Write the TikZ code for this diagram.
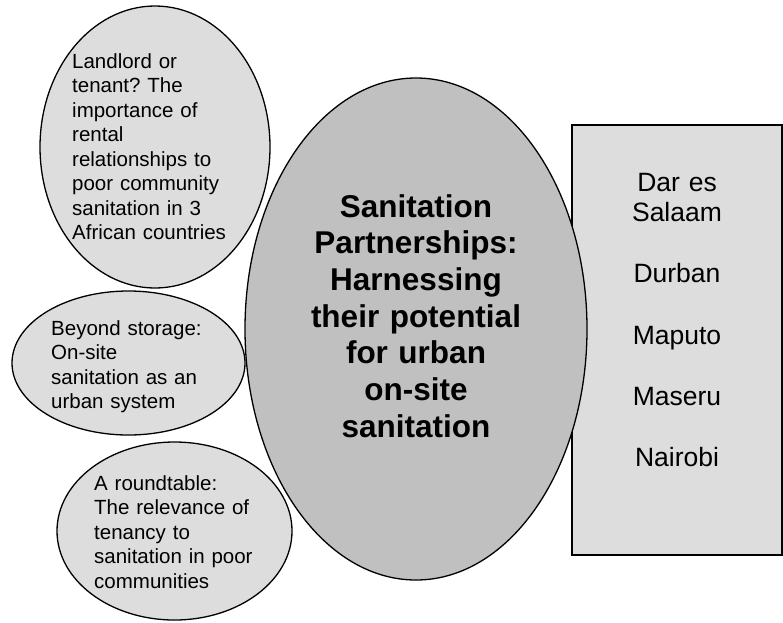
\documentclass[tikz,border=0pt]{standalone}
\usepackage{fontspec}
\setmainfont{Liberation Sans}
\usetikzlibrary{shapes.geometric}
\definecolor{lightgr}{RGB}{221,221,221}
\definecolor{midgr}{RGB}{192,192,192}
\frenchspacing
\begin{document}
\begin{tikzpicture}[x=1pt,y=-1pt,
  bubble/.style={ellipse, draw=black, line width=1.3pt, fill=lightgr, inner sep=0pt},
  hub/.style={ellipse, draw=black, line width=1.3pt, fill=midgr, inner sep=0pt},
  panel/.style={rectangle, draw=black, line width=1.3pt, fill=lightgr, inner sep=0pt},
  smalltext/.style={anchor=base west, align=left, text width=200pt, inner sep=0pt,
    font=\frenchspacing\fontsize{20.5}{24.5}\selectfont},
  hubtext/.style={anchor=base, align=center, text width=300pt, inner sep=0pt,
    font=\fontsize{31.5}{36.7}\selectfont\bfseries},
  paneltext/.style={anchor=base, align=center, text width=180pt, inner sep=0pt,
    font=\fontsize{26.5}{30.6}\selectfont}]
\useasboundingbox (0,0) rectangle (783,622);
% right panel
\node[panel, minimum width=210pt, minimum height=430pt] (cities) at (677,340) {};
% central ellipse
\node[hub, minimum width=342pt, minimum height=502pt] (hub) at (416,329) {};
% left bubbles
\node[bubble, minimum width=230pt, minimum height=282pt] (b1) at (155,147) {};
\node[bubble, minimum width=233pt, minimum height=144pt] (b2) at (128.5,363) {};
\node[bubble, minimum width=235pt, minimum height=178pt] (b3) at (174.5,531) {};
% texts
\node[smalltext] (t1) at (72,68) {Landlord or\\tenant? The\\importance of\\rental\\relationships to\\poor community\\sanitation in 3\\African countries};
\node[smalltext] (t2) at (51,335) {Beyond storage:\\On-site\\sanitation as an\\urban system};
\node[smalltext] (t3) at (94,490) {A roundtable:\\The relevance of\\tenancy to\\sanitation in poor\\communities};
\node[hubtext] (th) at (416,217) {Sanitation\\Partnerships:\\Harnessing\\their potential\\for urban\\on-site\\sanitation};
\node[paneltext] (tc) at (677,191) {Dar es\\Salaam\\[30.6pt]Durban\\[30.6pt]Maputo\\[30.6pt]Maseru\\[30.6pt]Nairobi};
\end{tikzpicture}
\end{document}
